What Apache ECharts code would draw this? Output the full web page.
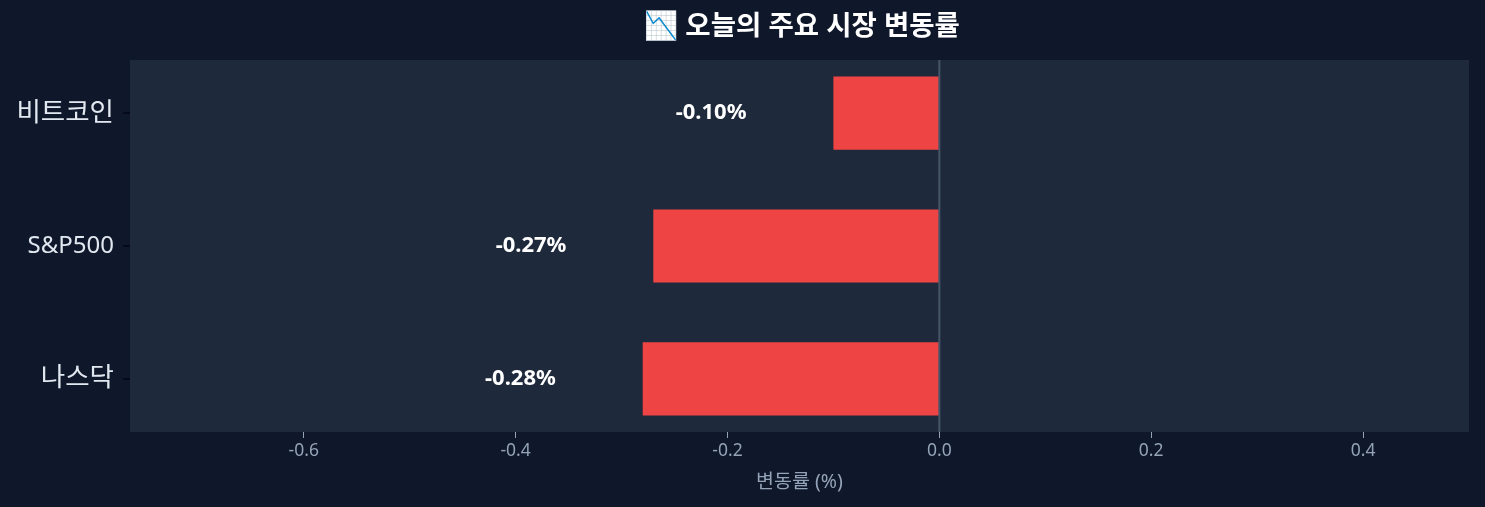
<!DOCTYPE html>
<html>
<head>
<meta charset="utf-8">
<script src="https://cdn.jsdelivr.net/npm/echarts@6/dist/echarts.min.js"></script>
<style>
html,body{margin:0;padding:0;background:#0f172a;}
#chart{width:1485px;height:507px;}
</style>
</head>
<body>
<div id="chart"></div>
<script>
const categories = ['비트코인', 'S&P500', '나스닥'];
const changes = [-0.10, -0.27, -0.28];
const xTickValues = [-0.6, -0.4, -0.2, 0.0, 0.2, 0.4];
const titleText = '📉 오늘의 주요 시장 변동률';
const xAxisName = '변동률 (%)';

const FONT = '"Noto Sans", "Noto Sans CJK KR", sans-serif';
const X_MIN = -0.764, X_MAX = 0.5;
const Y_MIN = -0.4, Y_MAX = 2.4;
const BAR_H = 0.55;
const LABEL_GAP = 0.082;

const chart = echarts.init(document.getElementById('chart'));
const seriesData = changes.map((v, i) => [v, i]);

chart.setOption({
  backgroundColor: '#0f172a',
  animation: false,
  title: {
    text: titleText,
    left: 797,
    top: 8,
    textAlign: 'center',
    textStyle: { color: '#ffffff', fontSize: 27.5, fontWeight: 'bold', fontFamily: FONT }
  },
  grid: {
    left: 130, right: 16, top: 60, bottom: 75,
    show: true, backgroundColor: '#1e293b', borderWidth: 0
  },
  xAxis: {
    type: 'value',
    min: X_MIN, max: X_MAX,
    name: xAxisName,
    nameLocation: 'middle',
    nameGap: 41,
    nameTextStyle: { color: '#94a3b8', fontSize: 19.5, fontFamily: FONT },
    axisLine: { show: false, onZero: false },
    axisTick: { show: true, customValues: xTickValues, length: 6, lineStyle: { color: '#94a3b8', width: 1 } },
    axisLabel: {
      customValues: xTickValues,
      color: '#94a3b8', fontSize: 17.5, fontFamily: FONT, margin: 10,
      formatter: v => v.toFixed(1)
    },
    splitLine: { show: false }
  },
  yAxis: {
    type: 'value',
    min: Y_MIN, max: Y_MAX,
    inverse: true,
    axisLine: { show: false, onZero: false },
    axisTick: { show: true, customValues: [0, 1, 2], length: 7, lineStyle: { color: '#020617', width: 1.5 } },
    axisLabel: {
      customValues: [0, 1, 2],
      color: '#e2e8f0', fontSize: 24, fontFamily: FONT, margin: 16,
      formatter: v => {
        const s = categories[Math.round(v)] || '';
        return /[\uac00-\ud7a3]/.test(s) ? '{k|' + s + '}' : s;
      },
      rich: { k: { fontSize: 26.5, color: '#e2e8f0', fontFamily: FONT } }
    },
    splitLine: { show: false }
  },
  series: [
    {
      type: 'custom',
      data: seriesData,
      encode: { x: 0, y: 1 },
      renderItem: function (params, api) {
        const v = api.value(0), idx = api.value(1);
        const start = api.coord([0, idx]);
        const end = api.coord([v, idx]);
        const h = Math.abs(api.size([0, BAR_H])[1]);
        const lbl = api.coord([v - LABEL_GAP, idx]);
        return {
          type: 'group',
          children: [
            {
              type: 'rect',
              shape: { x: Math.min(start[0], end[0]), y: start[1] - h / 2, width: Math.abs(end[0] - start[0]), height: h },
              style: { fill: '#ef4444' }
            },
            {
              type: 'text',
              x: lbl[0], y: lbl[1],
              style: {
                text: v.toFixed(2) + '%',
                fill: '#ffffff',
                fontSize: 22, fontWeight: 'bold', fontFamily: FONT,
                align: 'right', verticalAlign: 'middle'
              }
            }
          ]
        };
      }
    },
    {
      type: 'line',
      data: [[0, Y_MIN], [0, Y_MAX]],
      symbol: 'none',
      silent: true,
      lineStyle: { color: '#475569', width: 2 },
      z: 3
    }
  ]
});
</script>
</body>
</html>
